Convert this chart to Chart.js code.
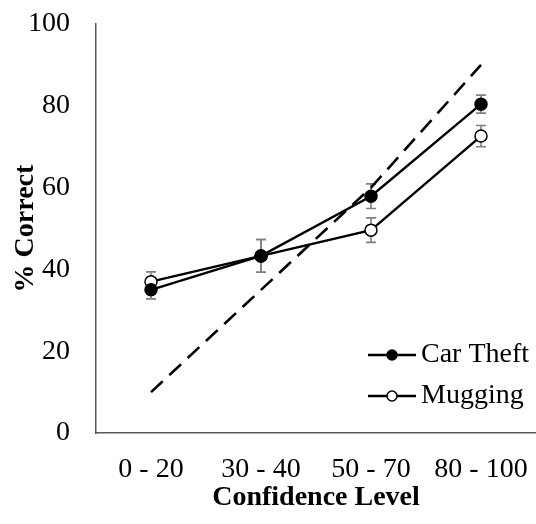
<!DOCTYPE html>
<html>
<head>
<meta charset="utf-8">
<script src="https://cdn.jsdelivr.net/npm/chart.js@4"></script>
<style>
  html, body { margin: 0; padding: 0; background: #fff; }
  #wrap { width: 536px; height: 524px; }
</style>
</head>
<body>
<div id="wrap"><canvas id="calibChart" width="536" height="524"></canvas></div>
<script>
// values
const levels = ['0 - 20', '30 - 40', '50 - 70', '80 - 100'];
const carTheft = [35.0, 43.3, 57.9, 80.4];
const carTheftErr = [2.2, 4.0, 3.0, 2.2];
const mugging = [37.0, 43.3, 49.6, 72.6];
const muggingErr = [2.4, 4.0, 3.0, 2.6];
const perfect = [10, 35, 60, 90];
const yTicks = [0, 20, 40, 60, 80, 100];

const serif = "'Liberation Serif', 'Times New Roman', serif";

// gray error bars, drawn under the markers
const errorBars = {
    id: 'errorBars',
    beforeDatasetsDraw(chart) {
        const { ctx, scales: { x, y } } = chart;
        ctx.save();
        ctx.strokeStyle = '#808080';
        ctx.lineWidth = 1.6;
        chart.data.datasets.forEach(ds => {
            if (!ds.errors) return;
            ds.data.forEach((v, i) => {
                const px = x.getPixelForValue(i);
                const top = y.getPixelForValue(v + ds.errors[i]);
                const bot = y.getPixelForValue(v - ds.errors[i]);
                ctx.beginPath();
                ctx.moveTo(px, top); ctx.lineTo(px, bot);
                ctx.moveTo(px - 5, top); ctx.lineTo(px + 5, top);
                ctx.moveTo(px - 5, bot); ctx.lineTo(px + 5, bot);
                ctx.stroke();
            });
        });
        ctx.restore();
    }
};

// Excel-style legend: short line with the marker on it
const lineLegend = {
    id: 'lineLegend',
    afterDraw(chart) {
        const { ctx } = chart;
        const items = chart.data.datasets.filter(d => d.label);
        ctx.save();
        ctx.font = '28px ' + serif;
        ctx.textBaseline = 'middle';
        items.forEach((ds, k) => {
            const yy = 355 + k * 41;
            ctx.strokeStyle = '#000';
            ctx.lineWidth = 2.3;
            ctx.beginPath();
            ctx.moveTo(368, yy); ctx.lineTo(416, yy);
            ctx.stroke();
            ctx.beginPath();
            ctx.arc(392, yy, 5, 0, Math.PI * 2);
            ctx.fillStyle = ds.pointBackgroundColor;
            ctx.fill();
            ctx.lineWidth = 1.5;
            ctx.stroke();
            ctx.fillStyle = '#000';
            ctx.fillText(ds.label, 421, yy);
        });
        ctx.restore();
    }
};

new Chart(document.getElementById('calibChart'), {
    type: 'line',
    data: {
        labels: levels,
        datasets: [
            {
                label: 'Car Theft',
                data: carTheft,
                errors: carTheftErr,
                borderColor: '#000',
                borderWidth: 2.4,
                pointRadius: 6,
                pointBackgroundColor: '#000',
                pointBorderColor: '#000',
                pointBorderWidth: 1.5
            },
            {
                label: 'Mugging',
                data: mugging,
                errors: muggingErr,
                borderColor: '#000',
                borderWidth: 2.4,
                pointRadius: 6,
                pointBackgroundColor: '#fff',
                pointBorderColor: '#000',
                pointBorderWidth: 1.5
            },
            {
                label: '',
                data: perfect,
                borderColor: '#000',
                borderWidth: 2.6,
                borderDash: [16, 9],
                pointRadius: 0
            }
        ]
    },
    options: {
        responsive: false,
        animation: false,
        layout: { autoPadding: false, padding: { top: 24, right: 0, bottom: 0, left: 0 } },
        plugins: { legend: { display: false }, tooltip: { enabled: false } },
        scales: {
            x: {
                offset: true,
                grid: { display: false, drawTicks: false },
                border: { display: true, color: '#595959', width: 1.5 },
                ticks: { font: { family: serif, size: 28 }, color: '#000', padding: 20, maxRotation: 0 },
                title: {
                    display: true,
                    text: 'Confidence Level',
                    font: { family: serif, size: 28, weight: 'bold' },
                    color: '#000',
                    padding: { top: 0, bottom: 9 }
                },
                afterFit(scale) {
                    scale.height = 91;
                    scale.paddingLeft = 0;
                    scale.paddingRight = 0;
                    scale.paddingTop = 0;
                    scale.paddingBottom = 0;
                }
            },
            y: {
                min: 0,
                max: 100,
                grid: { display: false, drawTicks: false },
                border: { display: true, color: '#595959', width: 1.5 },
                afterBuildTicks(scale) { scale.ticks = yTicks.map(v => ({ value: v })); },
                ticks: { font: { family: serif, size: 28 }, color: '#000', padding: 26 },
                title: {
                    display: true,
                    text: '% Correct',
                    font: { family: serif, size: 28, weight: 'bold' },
                    color: '#000',
                    padding: { top: 9, bottom: 0 }
                },
                afterFit(scale) {
                    scale.width = 96;
                    scale.paddingTop = 0;
                    scale.paddingBottom = 0;
                    scale.paddingLeft = 0;
                    scale.paddingRight = 0;
                }
            }
        }
    },
    plugins: [errorBars, lineLegend]
});
</script>
</body>
</html>
